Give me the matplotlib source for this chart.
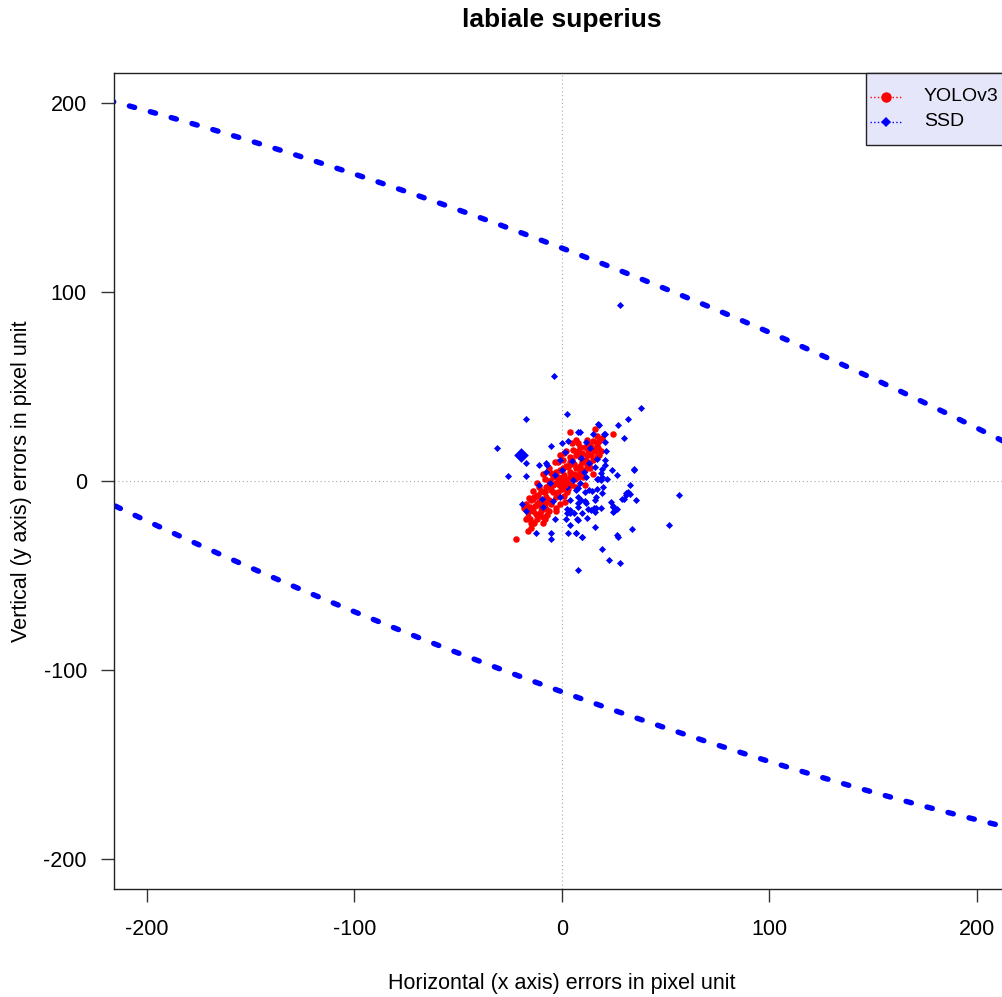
import matplotlib
matplotlib.use("Agg")
import numpy as np
import matplotlib.pyplot as plt
from matplotlib.patches import Rectangle

plt.rcParams["font.family"] = ["Liberation Sans", "DejaVu Sans"]
plt.rcParams["axes.unicode_minus"] = False

# YOLOv3 landmark errors (x, y) in pixels
yolo_x = [3.9, 16.0, 24.8, 15.0, 17.5, 16.8, 13.5, 7.9, 7.1, 3.9, 0.6, -3.4, -8.2, -11.4,
          -13.9, -15.5, -16.3, -13.9, -16.3, -22.2, -9.0, -7.4, -9.8, -7.4, -2.6, 1.4,
          7.1, 8.7, 11.9, 16.8, 5.5, 3.0, -1.0, -5.0, -7.4, -5.0, 2.3, 6.3, 8.7, 12.7,
          15.1, 10.3, -12.0, -10.0, -6.0, -4.0, -2.0, 1.0, 4.0, 6.0, 9.0, 10.0, 13.0,
          14.0, 18.0, 19.0, -14.0, -12.0, -10.0, -8.0, -6.0, -11.0, -3.0, 0.0, 3.0, 5.0,
          7.0, 11.0, 2.0, -1.0, -6.0, -9.0, -4.0, -15.0, -17.0, -14.6, -13.5, -16.3,
          -15.5, -13.4, -18.0, -11.0, -8.5, -12.5, -5.5, -3.0, 0.5, 4.5, 9.5, 12.0,
          17.0, 19.5, 14.5, 11.0, 6.5,
          -12.0, -10.0, -8.0, -6.0, -4.0, -2.0, 0.0, 2.0, 4.0, 6.0, 8.0, 10.0, 12.0,
          14.0, 16.0, 18.0, 17.0, 12.0, 9.0, 5.0, 1.0, -2.0, -9.0, -12.0, -14.0, -16.0,
          -17.0, -17.0, -15.0, -11.0, -9.0, -7.0, -5.0, -3.0, -1.0, 1.0, 3.0, 5.0, 8.0,
          10.0, 13.0, 15.0, 11.0, 7.0, 4.0, -1.0, -3.0, -6.0, -8.0, -13.0]
yolo_y = [26.1, 27.5, 24.9, 21.4, 17.8, 12.9, 6.7, 20.0, 21.7, 12.9, 11.1, 10.2, 1.4, -7.4,
          -9.2, -13.6, -18.9, -22.4, -26.3, -30.4, -18.9, -14.5, -13.6, -8.3, -8.3, -11.0,
          -3.0, 4.9, 11.1, 20.0, 16.4, 7.6, 5.8, 4.1, -3.0, -4.8, -5.7, 1.4, 12.9, 16.4,
          11.1, 2.3, -12.0, -5.0, -10.0, -2.0, 2.0, 3.0, 5.0, 9.0, 8.0, 15.0, 19.0,
          14.0, 21.0, 16.0, -16.0, -20.0, -16.0, -20.0, -16.0, -3.0, -14.0, -4.0, -1.0,
          11.0, 14.0, 6.0, 16.0, 14.0, 7.0, -10.0, -6.0, -22.0, -12.0, -10.0, -8.3,
          -16.2, -19.8, -22.4, -14.0, -11.0, -6.0, -17.5, 0.0, -1.0, 7.0, 9.0, 13.5,
          8.5, 18.5, 23.0, 17.0, 18.0, 3.5,
          -8.0, -12.0, -6.0, -2.0, 2.0, -6.0, 6.0, 8.0, 10.0, 4.0, 16.0, 10.0, 14.0,
          18.0, 16.0, 14.0, 24.0, 22.0, 18.0, 20.0, 15.0, 10.0, 4.0, -1.0, -5.0, -9.0,
          -14.0, -20.0, -25.0, -18.0, -22.0, -18.0, -12.0, -16.0, -12.0, -8.0, -4.0, -2.0,
          2.0, 6.0, 9.0, 4.0, -2.0, 7.0, 2.0, 1.0, 5.0, 0.0, -12.0, -13.0]

# SSD landmark errors (x, y) in pixels
ssd_x = [28.0, -3.9, 38.0, 32.0, 26.9, 30.0, 17.9, 21.0, 24.0, 26.4, 35.0, 32.9, 21.0, 21.0,
         19.8, 17.5, 19.2, 15.0, -17.0, 2.7, -31.2, -5.3, -17.0, -11.0, -7.0, -26.0,
         -17.0, -11.0, 0.0, -19.2, -17.0, -12.2, -5.3, -5.3, -3.4, 1.9, 3.0, 7.0, 3.9,
         7.6, 3.9, 7.4, 3.9, 7.7, 13.0, 17.0, 7.7, 9.2, 11.0, 16.4, 7.7, 12.6, 10.0,
         15.5, 18.8, 23.7, 24.6, 25.0, 29.0, 31.0, 32.9, 35.7, 32.0, 51.7, 56.5, 12.0,
         16.0, 26.6, 27.0, 33.8, 19.3, 22.7, 28.0, 6.8, 9.7, 20.3, 20.8, 21.1, 17.5,
         8.7, 7.6, 2.8, 11.9, 13.5, 16.8, 19.2, 18.8, 16.8, 10.6, 7.1, 2.6, 2.6, 7.9,
         3.9, -1.0, -4.2, -9.5, -9.0, -5.8, 2.3, 5.5, 0.0, -3.4, -7.4, -7.4, -1.0, 1.4,
         4.7, 9.5, 13.2, 16.0, 11.9, 8.7, 11.1, 14.8, 19.2, 16.0, 11.9, 7.9, 5.8, 14.3,
         24.8, 26.4, 24.5, 16.4, 16.0, 34.8, 31.2, 30.0, 18.7, 21.6, 10.0]
ssd_y = [93.0, 55.8, 38.8, 32.7, 29.7, 23.0, 29.7, 24.7, 5.8, 3.2, 5.8, -2.1, 11.0, 8.5,
         -3.0, 1.4, 2.3, 24.7, 32.7, 35.8, 17.8, 18.7, 9.7, 8.5, 8.5, 2.8,
         2.8, -2.1, 20.3, -12.2, -15.9, -27.4, -27.7, -30.4, -19.8, -19.8, -27.4, -27.4,
         -23.3, -47.0, -17.1, -19.8, -15.4, -3.7, -4.8, -4.2, -8.5, -10.0, -10.6, -8.5,
         -11.7, -14.8, -17.0, -14.3, -14.3, -11.0, -13.8, -16.0, -9.5, -7.4, -6.9, -10.0,
         -6.0, -23.3, -7.4, -19.6, -16.4, -28.6, -29.7, -25.4, -36.0, -41.9, -43.4,
         -27.5, -29.7, 24.9, 20.8, 16.0, 30.0, 26.1, 26.1, 21.4, 20.8, 17.8, 11.5, 6.2,
         4.1, 1.4, 4.9, -4.8, -14.5, -17.1, -20.3, -10.0, -8.3, -10.4, -9.2, -13.6, -1.2,
         -3.0, 0.5, 5.8, 3.2, 4.9, 9.4, 11.1, 15.5, 10.8, 12.0, 9.4, 7.6, 2.3, -1.2,
         -5.7, -5.1, -6.5, -10.0, -11.5, -13.6, -17.1, -15.4, -13.1, -15.0, -16.2, -14.1,
         -24.2, 6.4, -6.4, -9.5, 0.5, 1.4, -29.5]

# mean errors
yolo_mean = (0.0, -0.3)
ssd_mean = (-19.8, 13.6)

# SSD error ellipse: centre, semi-axes, rotation (degrees)
ssd_ell_centre = (-20.4, 14.3)
ssd_ell_axes = (507.4, 108.4)
ssd_ell_angle = -23.3

W, H = 1002, 997
fig = plt.figure(figsize=(W / 100, H / 100), dpi=100)
ax = fig.add_axes([114 / W, 1 - 889.3 / H, 895.5 / W, 816.3 / H])
ax.set_xlim(-215.8, 215.8)
ax.set_ylim(-216, 216)

# reference lines through the origin
ax.axhline(0, color="#a8a8a8", lw=0.8, ls=(0, (1, 2.5)), zorder=1)
ax.axvline(0, color="#a8a8a8", lw=0.8, ls=(0, (1, 2.5)), zorder=1)

# ellipse outline as a polyline, starting outside the visible window
t = np.linspace(0, 2 * np.pi, 1441)
phi = np.deg2rad(ssd_ell_angle)
ex = ssd_ell_axes[0] * np.cos(t)
ey = ssd_ell_axes[1] * np.sin(t)
ell_x = ssd_ell_centre[0] + ex * np.cos(phi) - ey * np.sin(phi)
ell_y = ssd_ell_centre[1] + ex * np.sin(phi) + ey * np.cos(phi)
ax.plot(ell_x, ell_y, color="#0000ff", lw=3.9, ls=(0, (1, 3)),
        dash_capstyle="round", zorder=2)

ax.scatter(yolo_x, yolo_y, s=22, c="#ff0000", marker="o", linewidths=0, zorder=3)
ax.scatter(ssd_x, ssd_y, s=13, c="#0000ff", marker="D", linewidths=0, zorder=4)
ax.scatter(*yolo_mean, s=110, c="#ff0000", marker="o", linewidths=0, zorder=5)
ax.scatter(*ssd_mean, s=56, c="#0000ff", marker="D", linewidths=0, zorder=5)

for side in ["top", "bottom", "left", "right"]:
    ax.spines[side].set_color("#222222")
    ax.spines[side].set_linewidth(1.0)

ax.set_xticks([-200, -100, 0, 100, 200])
ax.set_yticks([-200, -100, 0, 100, 200])
ax.tick_params(axis="both", length=9.5, width=1, color="#333333",
               labelsize=15.5, labelcolor="black")
ax.tick_params(axis="x", pad=12)
ax.tick_params(axis="y", pad=10)

# legend box in the top-right corner
tr = ax.transAxes
def ax_xy(px, py):
    return (px - 114) / 895.5, (889.3 - py) / 816.3

bx0, by0 = ax_xy(866, 145)
ax.add_patch(Rectangle((bx0, by0), 1 - bx0, 1 - by0, transform=tr,
                       facecolor="#e6e6fa", edgecolor="#222222", lw=1.0,
                       zorder=6, clip_on=False))
legend_rows = [("YOLOv3", "#ff0000", "o", 7.5, 96.7),
               ("SSD", "#0000ff", "D", 4.8, 121.7)]
for label, col, mk, ms, py in legend_rows:
    x0, yy = ax_xy(870, py)
    x1, _ = ax_xy(903, py)
    xm, _ = ax_xy(886.5, py)
    xt, _ = ax_xy(924, py)
    ax.plot([x0, x1], [yy, yy], transform=tr, color=col, lw=1, ls=":",
            zorder=7, clip_on=False)
    ax.plot([xm], [yy], transform=tr, color=col, marker=mk, ms=ms, mew=0,
            zorder=7, clip_on=False)
    ax.text(xt, yy, label, transform=tr, ha="left", va="center",
            fontsize=14, zorder=7)

fig.text(561.7 / W, 1 - 20 / H, "labiale superius", ha="center", va="center",
         fontsize=19, fontweight="bold")
fig.text(561.7 / W, 1 - 983 / H, "Horizontal (x axis) errors in pixel unit",
         ha="center", va="center", fontsize=15.5)
fig.text(22 / W, 1 - 481 / H, "Vertical (y axis) errors in pixel unit",
         ha="center", va="center", rotation=90, fontsize=15.5)

fig.savefig("out.png", dpi=100)
